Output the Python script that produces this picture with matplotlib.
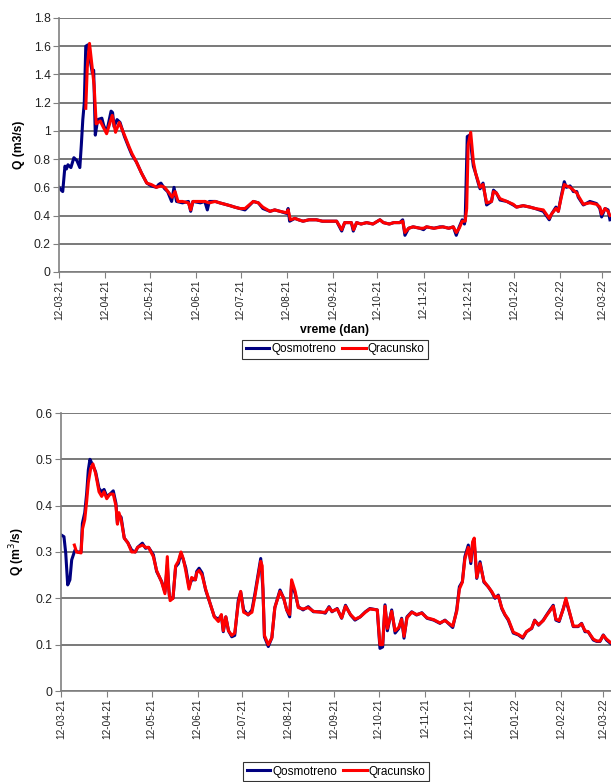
import datetime as dt
import numpy as np
import matplotlib
matplotlib.use("Agg")
import matplotlib.pyplot as plt
import matplotlib.dates as mdates

plt.rcParams["font.family"] = ["Liberation Sans", "DejaVu Sans"]

START = dt.datetime(2021, 3, 12)

# gornji grafik - dani od 12-03-21 i protok (m3/s)
obs_days_1 = [0, 1.5, 2.5, 4, 5, 6, 8, 10, 12, 14, 15, 16, 17, 18, 19.5, 21, 22.4, 23.3, 24.4, 26,
              28.8, 30, 32, 35, 36, 37, 39, 41, 44, 47, 49, 52, 55.5, 59, 62, 65.5, 67, 68.5, 71, 73,
              75.7, 77.3, 79, 83, 87, 88.5, 90, 95, 98, 99.7, 101, 105, 108, 111.6, 115, 118, 121.6, 125, 130.6, 134, 137, 141.8,
              145, 148.5, 153, 154, 155, 158.5, 161, 164, 168, 173, 177, 182, 186.6, 190, 192, 196.5, 197.8, 200, 203, 206.8, 211, 215.7, 218, 222, 225, 229, 231,
              232.5, 235, 238, 242.6, 245, 247, 252, 256, 258, 262, 265, 267, 269, 271, 272.5, 273, 274.4, 276, 278.5, 280, 281.8, 283, 285,
              287.4, 290.7, 292, 294, 296.4, 301, 305.3, 307.5, 312, 316.5, 320, 325.5, 329.5, 331, 334, 335.6, 337.4, 339.6, 341, 343.5, 345.7,
              348, 349, 352.4, 356.8, 361.3, 363.5, 364.7, 367, 369, 370.3]
obs_q_1 = [0.60, 0.58, 0.57, 0.75, 0.73, 0.76, 0.74, 0.81, 0.79, 0.74, 0.90, 1.08, 1.20, 1.60, 1.61, 1.50, 1.41, 1.43, 0.97, 1.08,
           1.09, 1.04, 0.99, 1.14, 1.13, 1.03, 1.08, 1.06, 0.96, 0.88, 0.83, 0.78, 0.70, 0.63, 0.61, 0.60, 0.62, 0.63, 0.59, 0.57,
           0.50, 0.60, 0.50, 0.49, 0.50, 0.43, 0.50, 0.49, 0.50, 0.44, 0.50, 0.50, 0.49, 0.48, 0.47, 0.46, 0.45, 0.44, 0.50, 0.49, 0.45, 0.43,
           0.44, 0.43, 0.415, 0.45, 0.36, 0.38, 0.37, 0.36, 0.37, 0.37, 0.36, 0.36, 0.36, 0.29, 0.35, 0.35, 0.29, 0.35, 0.34, 0.35, 0.34, 0.37, 0.35, 0.34, 0.35, 0.35, 0.37,
           0.26, 0.31, 0.32, 0.31, 0.30, 0.32, 0.31, 0.32, 0.32, 0.31, 0.32, 0.26, 0.32, 0.37, 0.34, 0.37, 0.96, 0.97, 0.75, 0.70, 0.63, 0.59, 0.63,
           0.475, 0.50, 0.58, 0.56, 0.51, 0.50, 0.475, 0.46, 0.47, 0.46, 0.45, 0.43, 0.37, 0.41, 0.46, 0.43, 0.53, 0.64, 0.60, 0.61, 0.57,
           0.57, 0.53, 0.475, 0.50, 0.485, 0.45, 0.39, 0.45, 0.44, 0.37]

sim_days_1 = [18, 19, 20.5, 22.3, 23.6, 25, 27.7, 32, 35.8, 38, 40.5, 44, 47, 49, 52, 55.5, 59, 62, 65.5, 68.5,
              71, 74, 76, 78, 80, 83, 87, 88.5, 90, 95, 98, 101, 105, 108, 111.6, 115, 118, 121.6, 125, 130.6, 134, 137,
              141.8, 145, 148.5, 153, 154, 155.5, 158.5, 161, 164, 168, 173, 177, 182, 186.6, 190, 192, 196.5, 198, 200, 203, 206.8, 211, 215.7, 218, 222, 225, 229,
              231, 232.5, 235, 238, 242.6, 245, 247, 252, 258, 262, 265, 267, 269, 271, 273, 274, 275, 276.7, 278.5, 280, 281.8, 283, 285,
              287.4, 290.7, 292, 294, 296.4, 301, 305.3, 307.5, 312, 316.5, 320, 325.5, 329.5, 331, 334, 335.6, 337.4, 339.6, 341, 343.5, 345.7,
              348, 349, 352.4, 356.8, 361.3, 363.5, 364.7, 367, 369, 370.3]
sim_q_1 = [1.16, 1.45, 1.62, 1.45, 1.32, 1.05, 1.07, 0.98, 1.11, 0.99, 1.06, 0.97, 0.89, 0.84, 0.78, 0.70, 0.63, 0.62, 0.60, 0.61,
           0.60, 0.56, 0.53, 0.57, 0.50, 0.50, 0.49, 0.44, 0.50, 0.50, 0.50, 0.49, 0.50, 0.49, 0.48, 0.47, 0.46, 0.45, 0.45, 0.50, 0.49, 0.46,
           0.43, 0.44, 0.43, 0.42, 0.44, 0.37, 0.38, 0.37, 0.36, 0.37, 0.37, 0.36, 0.36, 0.36, 0.30, 0.35, 0.35, 0.30, 0.35, 0.34, 0.35, 0.34, 0.37, 0.35, 0.34, 0.35, 0.35,
           0.36, 0.28, 0.31, 0.32, 0.31, 0.31, 0.32, 0.31, 0.32, 0.31, 0.32, 0.28, 0.31, 0.36, 0.36, 0.45, 0.90, 0.99, 0.78, 0.70, 0.64, 0.60, 0.62,
           0.49, 0.50, 0.57, 0.56, 0.52, 0.50, 0.48, 0.46, 0.47, 0.46, 0.45, 0.44, 0.38, 0.41, 0.45, 0.43, 0.52, 0.62, 0.61, 0.60, 0.58,
           0.56, 0.54, 0.48, 0.49, 0.48, 0.46, 0.41, 0.45, 0.43, 0.40]

# donji grafik
obs_days_2 = [0, 2, 3.2, 4.5, 6, 7.2, 9.4, 11, 13.5, 14.4, 16, 17.3, 18.4, 19.5, 21, 23.3, 25.6, 27.4, 29, 30.8,
              33, 35.2, 37, 38, 39, 40.5, 42.6, 45, 47.6, 50, 51.6, 54.8, 57, 59, 62.2, 64.4, 67.8, 70, 71.6, 73,
              74, 75.4, 77.2, 79, 80.8, 82.4, 84, 86.2, 88, 90.5, 91.4, 93, 95, 97.4, 100.3, 103.3, 106, 108, 109.3, 111,
              112.8, 115, 117, 119.4, 121, 123, 126, 128.6, 130.6, 132.9, 134.5, 136, 137, 139.6, 142, 144, 147.5, 150, 152, 154,
              155.3, 157.7, 159.8, 163, 166.5, 170, 174.5, 178, 180.5, 182.5, 186, 189, 191.6, 195, 198, 201.5, 205, 208, 213, 214.8,
              216.6, 218.2, 219.8, 222.7, 225, 227.5, 229.4, 231, 233, 236.2, 239.5, 243, 246.5, 251, 255.2, 258.6, 260.8, 263.8, 266.5, 268.3,
              270.3, 272, 274.3, 276, 277.2, 278.3, 280, 282.2, 284.8, 287.7, 290, 292.3, 294.5, 296.8, 299, 301.2, 304.6, 308, 311, 313.5,
              317, 319, 321.6, 324.8, 327, 329.3, 331.5, 333.3, 335.5, 338.2, 340, 342.3, 345, 348.3, 350.6, 352.9, 355, 358.5, 360.8, 363,
              365.2, 367.4, 370]
obs_q_2 = [0.337, 0.333, 0.297, 0.229, 0.24, 0.283, 0.304, 0.30, 0.30, 0.362, 0.385, 0.427, 0.477, 0.50, 0.49, 0.473, 0.437, 0.43, 0.435, 0.42,
           0.425, 0.432, 0.405, 0.362, 0.38, 0.375, 0.33, 0.32, 0.304, 0.30, 0.31, 0.319, 0.308, 0.31, 0.294, 0.258, 0.236, 0.214, 0.272, 0.204,
           0.20, 0.20, 0.268, 0.275, 0.297, 0.283, 0.266, 0.225, 0.24, 0.24, 0.258, 0.265, 0.255, 0.218, 0.19, 0.16, 0.155, 0.163, 0.128, 0.16,
           0.13, 0.117, 0.12, 0.196, 0.214, 0.175, 0.164, 0.175, 0.21, 0.254, 0.286, 0.22, 0.117, 0.096, 0.115, 0.18, 0.218, 0.20, 0.175, 0.16,
           0.232, 0.21, 0.182, 0.175, 0.182, 0.171, 0.171, 0.168, 0.182, 0.171, 0.178, 0.157, 0.185, 0.164, 0.153, 0.16, 0.171, 0.178, 0.175, 0.092,
           0.095, 0.186, 0.13, 0.175, 0.125, 0.135, 0.157, 0.114, 0.16, 0.171, 0.164, 0.169, 0.157, 0.153, 0.146, 0.153, 0.146, 0.137, 0.175, 0.225,
           0.236, 0.29, 0.315, 0.275, 0.319, 0.32, 0.243, 0.279, 0.235, 0.225, 0.214, 0.20, 0.207, 0.178, 0.164, 0.153, 0.125, 0.121, 0.114, 0.128,
           0.135, 0.153, 0.142, 0.153, 0.164, 0.175, 0.185, 0.153, 0.15, 0.178, 0.196, 0.171, 0.139, 0.139, 0.146, 0.128, 0.128, 0.11, 0.107, 0.107,
           0.121, 0.11, 0.103]

sim_days_2 = [9, 10.5, 13.5, 14.5, 16, 17.3, 18.4, 20, 21.5, 23.3, 25.6, 27.4, 29, 30.8, 33, 35.2, 37, 38, 39, 40.5,
              42.6, 45, 47.6, 50, 51.6, 54.8, 57, 59, 62.2, 64.4, 67.8, 70, 71.6, 72.5, 73.5, 75.4, 77.2, 79, 80.8, 82.4,
              84, 86.2, 88, 90.5, 91.4, 93, 95, 97.4, 100.3, 103.3, 106, 108, 109.3, 111, 112.8, 115, 117, 119.4, 121, 123,
              126, 128.6, 130.6, 132.9, 134.5, 135.5, 137, 139.6, 142, 144, 147.5, 150, 152, 154, 155.3, 157.7, 159.8, 163, 166.5, 170,
              174.5, 178, 180.5, 182.5, 186, 189, 191.6, 195, 198, 201.5, 205, 208, 213, 214.8, 216.6, 218.2, 219.8, 222.7, 225, 227.5,
              229.4, 231, 233, 236.2, 239.5, 243, 246.5, 251, 255.2, 258.6, 260.8, 263.8, 266.5, 268.3, 270.3, 272, 274.3, 276, 277.2, 278.3,
              280, 282.2, 284.8, 287.7, 290, 292.3, 294.5, 296.8, 299, 301.2, 304.6, 308, 311, 313.5, 317, 319, 321.6, 324.8, 327, 329.3,
              331.5, 333.3, 335.5, 338.2, 340, 342.3, 345, 348.3, 350.6, 352.9, 355, 358.5, 360.8, 363, 365.2, 367.4, 370]
sim_q_2 = [0.315, 0.30, 0.298, 0.35, 0.37, 0.41, 0.45, 0.48, 0.49, 0.47, 0.43, 0.42, 0.43, 0.415, 0.425, 0.425, 0.40, 0.36, 0.385, 0.37,
           0.33, 0.32, 0.30, 0.30, 0.31, 0.315, 0.31, 0.31, 0.29, 0.26, 0.235, 0.21, 0.29, 0.22, 0.195, 0.20, 0.27, 0.28, 0.30, 0.285,
           0.26, 0.22, 0.245, 0.24, 0.255, 0.26, 0.25, 0.22, 0.19, 0.16, 0.15, 0.165, 0.13, 0.16, 0.13, 0.12, 0.125, 0.19, 0.215, 0.17,
           0.165, 0.17, 0.205, 0.25, 0.28, 0.27, 0.12, 0.10, 0.115, 0.18, 0.215, 0.20, 0.175, 0.165, 0.24, 0.215, 0.18, 0.177, 0.18, 0.172,
           0.17, 0.17, 0.18, 0.172, 0.177, 0.158, 0.183, 0.165, 0.155, 0.16, 0.17, 0.177, 0.175, 0.10, 0.10, 0.183, 0.135, 0.172, 0.13, 0.137,
           0.155, 0.118, 0.158, 0.17, 0.165, 0.168, 0.158, 0.154, 0.147, 0.152, 0.147, 0.14, 0.172, 0.22, 0.235, 0.285, 0.31, 0.28, 0.322, 0.33,
           0.245, 0.275, 0.237, 0.225, 0.215, 0.202, 0.205, 0.18, 0.165, 0.155, 0.127, 0.122, 0.116, 0.128, 0.136, 0.152, 0.143, 0.152, 0.163, 0.173,
           0.183, 0.155, 0.152, 0.176, 0.2, 0.172, 0.14, 0.14, 0.145, 0.13, 0.128, 0.112, 0.108, 0.108, 0.12, 0.112, 0.105]


def to_dates(days):
    return [START + dt.timedelta(days=d) for d in days]


def style_axes(ax, ymax, ystep, xmax_days):
    ax.set_xlim(START, START + dt.timedelta(days=xmax_days))
    ax.set_ylim(0, ymax)
    ax.set_yticks(np.arange(0, ymax + ystep / 2, ystep))
    ax.yaxis.set_major_formatter(plt.FuncFormatter(lambda v, p: f"{v:g}"))
    ax.xaxis.set_major_locator(mdates.MonthLocator(bymonthday=12))
    ax.xaxis.set_major_formatter(mdates.DateFormatter("%d-%m-%y"))
    ax.tick_params(axis="x", rotation=90, labelsize=7.2, length=4, pad=1.5,
                   color="#808080", labelcolor="#222222")
    ax.tick_params(axis="y", labelsize=8.7, length=4, pad=2,
                   color="#808080", labelcolor="#222222")
    ax.grid(axis="y", color="#555555", linewidth=1.1)
    ax.set_axisbelow(True)
    for side in ("top", "right"):
        ax.spines[side].set_visible(False)
    for side in ("left", "bottom"):
        ax.spines[side].set_color("#808080")
        ax.spines[side].set_linewidth(1.2)


def add_legend(ax, y):
    leg = ax.legend(loc="center", bbox_to_anchor=(0.5, y), ncol=2, fontsize=8.5,
                    frameon=True, fancybox=False, edgecolor="black", handlelength=2.0,
                    columnspacing=0.5, handletextpad=0.15, borderpad=0.3)
    leg.get_frame().set_linewidth(0.8)
    return leg


fig = plt.figure(figsize=(6.11, 7.82), dpi=100)

# gornji grafik
ax1 = fig.add_axes([59 / 611, 1 - 272 / 782, 1 - 59 / 611, 254 / 782])
ax1.plot(to_dates(obs_days_1), obs_q_1, color="#000080", lw=2.2, label="Qosmotreno")
ax1.plot(to_dates(sim_days_1), sim_q_1, color="#FF0000", lw=2.2, label="Qracunsko")
style_axes(ax1, 1.8, 0.2, 371)
ax1.set_ylabel("Q (m3/s)", fontsize=8.7, fontweight="bold", labelpad=6)
ax1.set_xlabel("vreme (dan)", fontsize=8.7, fontweight="bold", labelpad=3)
add_legend(ax1, -0.305)

# donji grafik
ax2 = fig.add_axes([61 / 611, 1 - 691 / 782, 1 - 61 / 611, 278 / 782])
ax2.plot(to_dates(obs_days_2), obs_q_2, color="#000080", lw=2.2, label="Qosmotreno")
ax2.plot(to_dates(sim_days_2), sim_q_2, color="#FF0000", lw=2.2, label="Qracunsko")
style_axes(ax2, 0.6, 0.1, 370.4)
ax2.set_ylabel("Q (m$^3$/s)", fontsize=8.7, fontweight="bold", labelpad=6)
add_legend(ax2, -0.29)

fig.savefig("out.png", dpi=100)
